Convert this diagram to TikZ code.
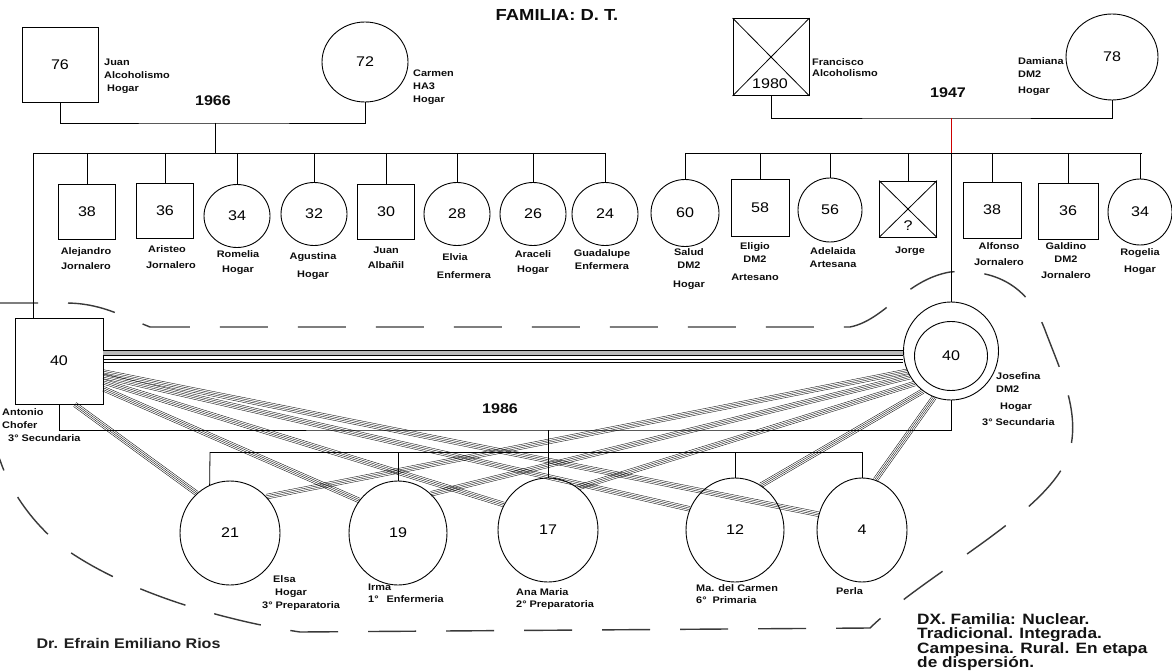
\documentclass[tikz,border=0pt]{standalone}
\usepackage{fontspec}
\setmainfont{Liberation Sans}
\newfontfamily\gfont[FakeStretch=1.15]{Liberation Sans}
\usetikzlibrary{calc,shapes.geometric}
% vinculo de cuatro trazos paralelos entre dos puntos
\newcommand{\lazo}[2]{%
  \foreach \desp in {-2.4pt,-0.8pt,0.8pt,2.4pt}
    \draw[vinculo] ($(#1)!\desp!90:(#2)$) -- ($(#2)!\desp!-90:(#1)$);}

\begin{document}
\begin{tikzpicture}[x=1pt,y=-1pt,
  varon/.style={draw,line width=0.9pt,minimum width=57pt,minimum height=55pt,inner sep=0pt,font=\gfont\fontsize{14}{16}\selectfont},
  mujer/.style={draw,line width=0.9pt,ellipse,minimum width=66pt,minimum height=63pt,inner sep=0pt,font=\gfont\fontsize{14}{16}\selectfont},
  etiq/.style={font=\gfont\fontsize{9.5}{13}\selectfont\bfseries,text=gray!10!black,align=center,inner sep=0pt,anchor=north},
  etiqi/.style={etiq,align=left,anchor=north west},
  anio/.style={font=\gfont\fontsize{14}{16}\selectfont\bfseries,text=gray!10!black,inner sep=0pt},
  linea/.style={line width=0.8pt},
  vinculo/.style={line width=0.35pt},
  hogar/.style={gray!45!black,line width=1.4pt,dash pattern=on 48pt off 30pt}]
  \useasboundingbox (0,0) rectangle (1172,671);
  \fill[white] (0,0) rectangle (1172,671);
  \node[font=\gfont\fontsize{16}{18}\selectfont\bfseries,text=gray!10!black] (titulo) at (557,15) {FAMILIA: D. T.};

  % abuelos paternos
  \node[varon,minimum width=76pt,minimum height=75pt] (juan) at (60,65) {76};
  \node[mujer,minimum width=86pt,minimum height=80pt] (carmen) at (365,62) {72};
  \coordinate (u1) at (215,123);
  \draw[linea] (juan.south) |- (u1) -| (carmen.south);
  \node[anio] (a1966) at (213,101) {1966};
  \node[etiqi] (lJuan) at (104,59) {Juan\\Alcoholismo\\\hspace*{3pt}Hogar};
  \node[etiqi] (lCarmen) at (413,70) {Carmen\\HA3\\Hogar};

  % hermanos de Antonio
  \coordinate (h1i) at (33,153);
  \coordinate (h1f) at (605,153);
  \draw[linea] (h1i) -- (h1f);
  \draw[linea] (u1) -- (u1 |- h1i);
  \node[varon] (ale) at (87,212) {38};
  \node[varon] (ari) at (165,211) {36};
  \node[mujer] (rom) at (237,216) {34};
  \node[mujer] (agu) at (314,214) {32};
  \node[varon] (jua) at (386,212) {30};
  \node[mujer] (elv) at (457,214) {28};
  \node[mujer] (ara) at (533,214) {26};
  \node[mujer] (gua) at (605,214) {24};
  \foreach \n in {ale,ari,rom,agu,jua,elv,ara,gua}
    \draw[linea] (\n.north |- h1i) -- (\n.north);
  \node[etiq] (lAle) at (86,247) {Alejandro\\[2pt]Jornalero};
  \node[etiq] (lAri) at (167,245) {Aristeo\\[3pt]\hspace*{8pt}Jornalero};
  \node[etiq] (lRom) at (238,250) {Romelia\\[2pt]Hogar};
  \node[etiq] (lAgu) at (313,252) {Agustina\\[5pt]Hogar};
  \node[etiq] (lJua) at (386,247) {Juan\\[2pt]Albañil};
  \node[etiq] (lElv) at (455,253) {Elvia\\[5pt]\hspace*{18pt}Enfermera};
  \node[etiq] (lAra) at (533,250) {Araceli\\[2pt]Hogar};
  \node[etiq] (lGua) at (602,249) {Guadalupe\\Enfermera};

  % abuelos maternos
  \node[varon,minimum width=76pt,minimum height=77pt] (fran) at (771,57) {};
  \draw[linea] (fran.north west) -- (fran.south east) (fran.north east) -- (fran.south west);
  \node[font=\gfont\fontsize{14}{16}\selectfont] (f1980) at (770,84) {1980};
  \node[mujer,minimum width=92pt,minimum height=86pt] (dami) at (1112,57) {78};
  \coordinate (u2) at (951,118);
  \draw[linea] (fran.south) |- (u2) -| (dami.south);
  \node[anio] (a1947) at (948,93) {1947};
  \node[etiqi] (lFran) at (812,58) {Francisco\\[-2pt]Alcoholismo};
  \node[etiqi] (lDami) at (1018,57) {Damiana\\DM2\\[3pt]Hogar};

  % hermanos de Josefina
  \coordinate (h2i) at (685,153);
  \coordinate (h2f) at (1142,153);
  \draw[linea] (h2i) -- (h2f);
  \draw[red!80!black,line width=0.8pt] (u2) -- (u2 |- h2i);
  \node[mujer,minimum width=68pt,minimum height=67pt] (sal) at (685,213) {60};
  \node[varon,minimum width=58pt,minimum height=57pt] (eli) at (760,208) {58};
  \node[mujer,minimum width=64pt,minimum height=64pt] (ade) at (830,210) {56};
  \node[varon,minimum width=57pt,minimum height=56pt] (jor) at (908,209) {};
  \draw[linea] (jor.north west) -- (jor.south east) (jor.north east) -- (jor.south west);
  \node[font=\gfont\fontsize{14}{16}\selectfont] (jorq) at (908,226) {?};
  \node[varon,minimum width=58pt,minimum height=56pt] (alf) at (992,210) {38};
  \node[varon,minimum width=60pt,minimum height=56pt] (gal) at (1068,211) {36};
  \node[mujer,minimum width=64pt,minimum height=66pt] (rog) at (1140,212) {34};
  \foreach \n in {sal,eli,ade,jor,alf,gal,rog}
    \draw[linea] (\n.north |- h2i) -- (\n.north);
  \node[etiq] (lSal) at (689,248) {Salud\\DM2\\[6pt]Hogar};
  \node[etiq] (lEli) at (755,242) {Eligio\\DM2\\[5pt]Artesano};
  \node[etiq] (lAde) at (833,247) {Adelaida\\Artesana};
  \node[etiq] (lJor) at (910,247) {Jorge};
  \node[etiq] (lAlf) at (999,242) {Alfonso\\[3pt]Jornalero};
  \node[etiq] (lGal) at (1066,242) {Galdino\\DM2\\[3pt]Jornalero};
  \node[etiq] (lRog) at (1140,248) {Rogelia\\[4pt]Hogar};

  % limite del hogar
  \draw[hogar] (-10,303) -- (65,303) .. controls (100,303) and (120,315) .. (150,327)
    -- (850,327) .. controls (885,320) and (905,280) .. (950,272)
    .. controls (1000,268) and (1030,290) .. (1045,330)
    .. controls (1060,370) and (1080,410) .. (1070,450)
    .. controls (1055,510) and (930,570) .. (870,628)
    -- (300,632) .. controls (220,620) and (120,590) .. (60,545)
    .. controls (30,520) and (10,490) .. (0,460) -- (-10,440);

  % pareja
  \node[varon,minimum width=88pt,minimum height=86pt] (anto) at (59,361) {40};
  \draw[linea] (h1i) -- (h1i |- anto.north);
  \node[mujer,minimum width=95pt,minimum height=98pt] (jose) at (951,351) {};
  \node[mujer,minimum width=73pt,minimum height=69pt] (josei) at (951,356) {40};
  \draw[linea] (u2 |- h2i) -- (jose.north);
  \draw[gray!55,line width=5pt] ([yshift=8.2pt]anto.east) -- ([yshift=8.2pt]anto.east -| jose.west);
  \foreach \s in {11,5.5,2,-1.5}
    \draw[line width=0.5pt] ([yshift=\s pt]anto.east) -- ([yshift=\s pt]anto.east -| jose.west);
  \coordinate (u3) at (548,430);
  \draw[linea] (anto.south) |- (u3) -| (jose.south);
  \node[anio] (a1986) at (500,409) {1986};
  \node[etiqi] (lAnto) at (2,408) {Antonio\\Chofer\\\hspace*{6pt}3° Secundaria};
  \node[etiqi] (lJose) at (996,372) {Josefina\\DM2\\[4pt]\hspace*{4pt}Hogar\\[3pt]\hspace*{-14pt}3° Secundaria};

  % hijos
  \coordinate (h3i) at (210,452);
  \coordinate (h3f) at (862,452);
  \draw[linea] (h3i) -- (h3f);
  \draw[linea] (u3) -- (u3 |- h3i);
  \node[mujer,minimum width=100pt,minimum height=104pt] (elsa) at (230,533) {21};
  \node[mujer,minimum width=98pt,minimum height=104pt] (irma) at (398,533) {19};
  \node[mujer,minimum width=100pt,minimum height=104pt] (anam) at (548,530) {17};
  \node[mujer,minimum width=98pt,minimum height=104pt] (mac) at (735,530) {12};
  \node[mujer,minimum width=90pt,minimum height=104pt] (perla) at (862,530) {4};
  \draw[linea] (h3i) -- (elsa.113);
  \foreach \n in {irma,anam,mac,perla}
    \draw[linea] (\n.north |- h3i) -- (\n.north);
  \node[etiqi] (lElsa) at (262,575) {\hspace*{11pt}Elsa\\\hspace*{13pt}Hogar\\3° Preparatoria};
  \node[etiqi] (lIrma) at (368,584) {Irma\\[-1pt]1°\hspace{8pt}Enfermeria};
  \node[etiqi] (lAnam) at (516,588) {Ana Maria\\[-1pt]2° Preparatoria};
  \node[etiqi] (lMac) at (696,584) {Ma. del Carmen\\[-1pt]6°\hspace{6pt}Primaria};
  \node[etiqi] (lPerla) at (836,587) {Perla};

  % vinculos padres - hijos
  \lazo{anto.-70}{elsa.130}
  \lazo{anto.-32}{irma.140}
  \lazo{anto.-25}{anam.150}
  \lazo{anto.-19}{mac.155}
  \lazo{anto.-14}{perla.160}
  \lazo{jose.205}{elsa.45}
  \lazo{jose.212}{irma.50}
  \lazo{jose.222}{anam.55}
  \lazo{jose.235}{mac.60}
  \lazo{jose.250}{perla.75}

  \node[font=\gfont\fontsize{14}{16}\selectfont\bfseries,text=gray!25!black,anchor=west] (autor) at (33,643) {Dr. Efrain Emiliano Rios};
  \node[font=\gfont\fontsize{15}{14.5}\selectfont\bfseries,text=gray!15!black,align=left,anchor=north west,inner sep=0pt] (dx) at (917,613)
    {DX. Familia: Nuclear.\\Tradicional. Integrada.\\Campesina. Rural. En etapa\\de dispersión.};
\end{tikzpicture}
\end{document}
